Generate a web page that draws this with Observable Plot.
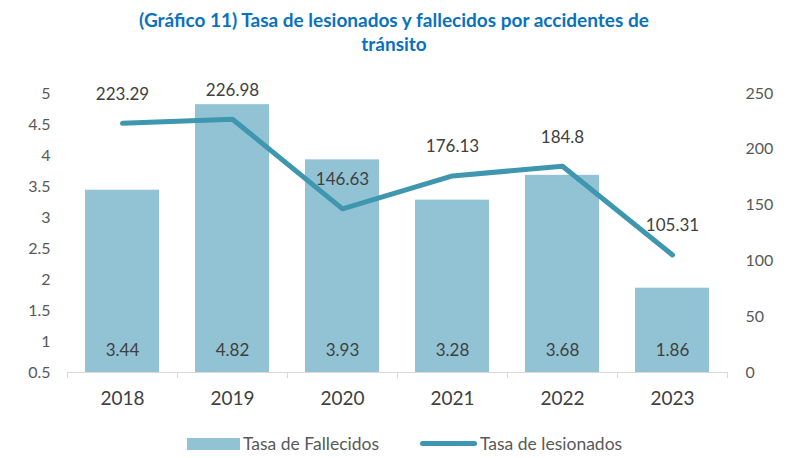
<!DOCTYPE html>
<html>
<head>
<meta charset="utf-8">
<script src="https://cdn.jsdelivr.net/npm/d3@7"></script>
<script src="https://cdn.jsdelivr.net/npm/@observablehq/plot@0.6"></script>
<style>
  body { margin: 0; background: #fff; font-family: Lato, "Open Sans", sans-serif; }
  #title { height: 60px; box-sizing: border-box; padding-top: 8px; text-align: center; color: #0a72bd; font-weight: bold; font-size: 19px; line-height: 24px; }
  #legend { position: relative; height: 38px; font-size: 17.5px; color: #595959; }
  .item { position: absolute; top: 13px; display: flex; align-items: center; }
</style>
</head>
<body>
<div id="title">(Gráfico 11) Tasa de lesionados y fallecidos por accidentes de<br>tránsito</div>
<div id="chart"></div>
<div id="legend">
  <div class="item" style="left:187px"><span style="display:inline-block;width:53px;height:12px;background:#92c3d5;margin-right:3px"></span>Tasa de Fallecidos</div>
  <div class="item" style="left:420px"><span style="display:inline-block;width:57px;height:5px;border-radius:3px;background:#3e97ae;margin-right:3px"></span>Tasa de lesionados</div>
</div>
<script>
const years = ["2018", "2019", "2020", "2021", "2022", "2023"];
const fallecidos = [3.44, 4.82, 3.93, 3.28, 3.68, 1.86];
const lesionados = [223.29, 226.98, 146.63, 176.13, 184.8, 105.31];
const leftTicks = [0.5, 1, 1.5, 2, 2.5, 3, 3.5, 4, 4.5, 5];
const rightTicks = [0, 50, 100, 150, 200, 250];

const leftMin = 0.5, leftMax = 5, rightMax = 250;
const toLeft = v => leftMin + v * (leftMax - leftMin) / rightMax;

const data = years.map((y, i) => ({year: y, fall: fallecidos[i], les: lesionados[i], lesL: toLeft(lesionados[i])}));

const fmt = v => String(v);

const chart = Plot.plot({
  width: 788,
  height: 360,
  marginTop: 33,
  marginBottom: 48,
  marginLeft: 67,
  marginRight: 61,
  style: {fontFamily: "Lato, 'Open Sans', sans-serif", color: "#595959", background: "#fff"},
  x: {domain: years, padding: 0, axis: null, label: null},
  y: {domain: [leftMin, leftMax], axis: null, label: null},
  marks: [
    Plot.barY(data, {x: "year", y1: leftMin, y2: "fall", fill: "#92c3d5", insetLeft: 18, insetRight: 18}),
    Plot.ruleY([leftMin], {stroke: "#d9d9d9", strokeWidth: 1}),
    Plot.ruleX(data, {x: "year", y1: leftMin, y2: leftMin - 0.1, dx: -55, stroke: "#d9d9d9"}),
    Plot.ruleX(data.slice(-1), {x: "year", y1: leftMin, y2: leftMin - 0.1, dx: 55, stroke: "#d9d9d9"}),
    Plot.axisX({tickSize: 0, tickPadding: 19, fontSize: 19, fill: "#404040", label: null}),
    Plot.axisY({ticks: leftTicks, tickFormat: fmt, anchor: "left", tickSize: 0, tickPadding: 17, fontSize: 16, fill: "#595959", label: null}),
    Plot.axisY({ticks: rightTicks.map(toLeft), tickFormat: (d, i) => String(rightTicks[i]), anchor: "right", tickSize: 0, tickPadding: 18, fontSize: 16, fill: "#595959", textAnchor: "start", label: null}),
    Plot.line(data, {x: "year", y: "lesL", stroke: "#3e97ae", strokeWidth: 5, strokeLinejoin: "round"}),
    Plot.text(data, {x: "year", y: "lesL", text: d => fmt(d.les), dy: -29, fontSize: 17, fill: "#404040"}),
    Plot.text(data, {x: "year", y: leftMin, text: d => d.fall.toFixed(2), dy: -22, fontSize: 17, fill: "#404040"})
  ]
});
document.getElementById("chart").appendChild(chart);
</script>
</body>
</html>
